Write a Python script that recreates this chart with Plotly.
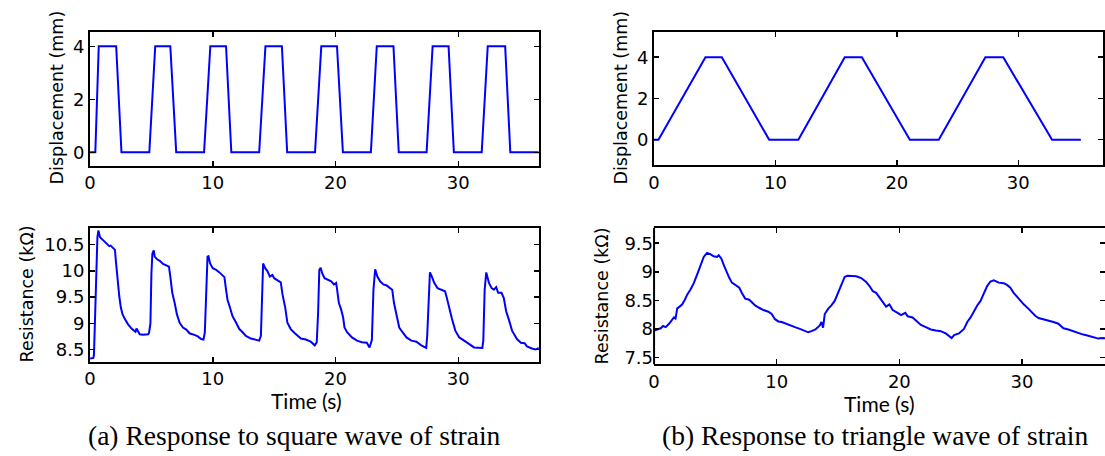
import plotly.graph_objects as go

# ---------------- data ----------------
# (a) square wave displacement (s, mm)
sq_disp_t = [0.00, 0.43, 0.71, 2.13, 2.56, 4.83, 5.31, 6.54, 7.02, 9.29, 9.80, 11.08, 11.51,
             13.78, 14.29, 15.63, 16.06, 18.33, 18.84, 20.12, 20.60, 22.88, 23.36, 24.72, 25.15,
             27.42, 27.91, 29.21, 29.64, 31.91, 32.40, 33.82, 34.24, 36.57]
sq_disp_y = [0, 0, 4, 4, 0, 0, 4, 4, 0, 0, 4, 4, 0,
             0, 4, 4, 0, 0, 4, 4, 0, 0, 4, 4, 0,
             0, 4, 4, 0, 0, 4, 4, 0, 0]

# (a) square wave resistance (s, kOhm)
sq_res_t = [0.00, 0.27, 0.32, 0.45, 0.60, 0.68, 0.81, 1.08, 1.35, 1.57, 1.68, 1.89, 2.03, 2.10,
            2.24, 2.38, 2.51, 2.65, 2.84, 3.10, 3.38, 3.57, 3.70, 3.78, 3.92, 4.05, 4.32, 4.73,
            4.81, 4.92, 5.00, 5.08, 5.19, 5.27, 5.46, 5.68, 5.95, 6.27, 6.43, 6.54, 6.70, 6.89,
            7.08, 7.30, 7.57, 7.84, 8.10, 8.50, 8.78, 9.05, 9.24, 9.35, 9.46, 9.57, 9.65, 9.78,
            10.00, 10.27, 10.54, 10.81, 10.95, 11.08, 11.20, 11.40, 11.60, 11.90, 12.16, 12.43,
            12.70, 13.10, 13.50, 13.78, 13.92, 14.00, 14.10, 14.27, 14.46, 14.65, 14.86, 15.00,
            15.27, 15.54, 15.68, 15.90, 16.08, 16.35, 16.64, 16.91, 17.18, 17.58, 17.98, 18.31,
            18.47, 18.58, 18.68, 18.79, 18.92, 19.11, 19.33, 19.65, 19.87, 20.05, 20.13, 20.27,
            20.46, 20.62, 20.73, 20.94, 21.34, 21.75, 22.15, 22.55, 22.77, 22.96, 23.09, 23.23,
            23.41, 23.63, 23.90, 24.17, 24.44, 24.62, 24.76, 24.97, 25.19, 25.46, 25.78, 26.18,
            26.59, 26.99, 27.39, 27.47, 27.58, 27.69, 27.85, 28.04, 28.31, 28.58, 28.92, 29.03,
            29.27, 29.49, 29.76, 30.08, 30.48, 30.89, 31.29, 31.96, 32.04, 32.15, 32.28, 32.50,
            32.72, 32.90, 33.09, 33.25, 33.52, 33.71, 33.90, 34.11, 34.38, 34.78, 35.10, 35.40,
            35.60, 36.00, 36.30, 36.56]
sq_res_r = [8.33, 8.34, 8.40, 9.60, 10.64, 10.77, 10.64, 10.58, 10.52, 10.47, 10.48, 10.42, 10.40, 10.20,
            9.77, 9.52, 9.30, 9.17, 9.08, 8.98, 8.90, 8.86, 8.84, 8.90, 8.83, 8.79, 8.78, 8.79,
            8.82, 9.00, 9.95, 10.33, 10.39, 10.27, 10.22, 10.19, 10.13, 10.10, 10.08, 9.89, 9.58, 9.39,
            9.17, 9.01, 8.92, 8.88, 8.81, 8.78, 8.75, 8.70, 8.69, 8.82, 9.64, 10.27, 10.28, 10.14,
            10.05, 10.02, 9.97, 9.92, 9.88, 9.64, 9.45, 9.30, 9.14, 9.01, 8.89, 8.83,
            8.76, 8.71, 8.69, 8.67, 8.76, 9.33, 10.14, 10.05, 9.99, 9.89, 9.92, 9.86,
            9.82, 9.78, 9.55, 9.30, 9.01, 8.89, 8.82, 8.76, 8.71, 8.69, 8.65, 8.58,
            8.64, 9.20, 10.02, 10.06, 9.95, 9.86, 9.83, 9.80, 9.74, 9.77, 9.64, 9.39,
            9.26, 9.11, 8.92, 8.83, 8.73, 8.67, 8.64, 8.63, 8.54, 8.68, 9.64, 10.03,
            9.89, 9.80, 9.74, 9.72, 9.67, 9.64, 9.39, 9.14, 8.92, 8.83, 8.73, 8.67,
            8.65, 8.58, 8.53, 8.77, 9.33, 9.97, 9.89, 9.77, 9.67, 9.64, 9.61, 9.52,
            9.26, 9.08, 8.86, 8.73, 8.67, 8.61, 8.54, 8.53, 8.67, 9.64, 9.97, 9.77,
            9.67, 9.64, 9.69, 9.58, 9.58, 9.48, 9.23, 9.08, 8.86, 8.70, 8.63, 8.62,
            8.56, 8.52, 8.50, 8.53]

# (b) triangle wave displacement (s, mm)
tri_disp_t = [0.00, 0.37, 4.24, 5.59, 9.49, 11.89, 15.71, 17.12, 21.07, 23.45, 27.29, 28.76, 32.78, 35.15]
tri_disp_y = [0, 0, 4, 4, 0, 0, 4, 4, 0, 0, 4, 4, 0, 0]

# (b) triangle wave resistance (s, kOhm)
tri_res_t = [0.00, 0.27, 0.54, 0.73, 0.95, 1.22, 1.49, 1.62, 1.75, 1.89, 2.08, 2.30, 2.51, 2.70,
             2.97, 3.24, 3.51, 3.78, 4.05, 4.32, 4.59, 4.86, 5.14, 5.27, 5.49, 5.68, 5.95, 6.14,
             6.35, 6.62, 6.95, 7.16, 7.43, 7.76, 7.97, 8.24, 8.57, 8.92, 9.32, 9.59, 9.86, 10.14,
             10.41, 10.73, 11.08, 11.49, 11.89, 12.30, 12.57, 12.84, 13.16, 13.51, 13.65, 13.78,
             13.92, 14.19, 14.46, 14.73, 15.00, 15.27, 15.54, 15.76, 16.08, 16.49, 16.89, 17.30,
             17.57, 17.84, 18.11, 18.38, 18.65, 18.92, 19.19, 19.46, 19.86, 20.14, 20.49, 20.68,
             21.08, 21.49, 21.76, 22.16, 22.57, 22.97, 23.38, 23.78, 24.27, 24.46, 24.86, 25.27,
             25.54, 25.81, 26.08, 26.35, 26.62, 26.89, 27.16, 27.43, 27.70, 28.11, 28.51, 28.78,
             29.05, 29.32, 29.73, 30.14, 30.54, 30.81, 31.08, 31.35, 31.76, 32.16, 32.57, 32.97,
             33.38, 33.78, 34.19, 34.59, 35.00, 35.41, 35.81, 36.22, 36.54, 37.00]
tri_res_r = [7.97, 7.99, 8.01, 8.05, 8.03, 8.09, 8.17, 8.20, 8.18, 8.36, 8.39, 8.43, 8.51, 8.60,
             8.69, 8.80, 8.95, 9.10, 9.26, 9.33, 9.31, 9.27, 9.26, 9.29, 9.23, 9.12, 8.97, 8.89,
             8.81, 8.77, 8.72, 8.63, 8.53, 8.51, 8.46, 8.41, 8.37, 8.33, 8.30, 8.26, 8.17, 8.13,
             8.12, 8.09, 8.06, 8.03, 8.00, 7.97, 7.94, 7.96, 7.99, 8.06, 8.12, 8.02,
             8.26, 8.35, 8.41, 8.49, 8.63, 8.76, 8.91, 8.93, 8.93, 8.92, 8.89, 8.82,
             8.75, 8.66, 8.63, 8.55, 8.47, 8.39, 8.43, 8.33, 8.28, 8.24, 8.28, 8.22,
             8.20, 8.12, 8.07, 8.03, 7.99, 7.97, 7.96, 7.92, 7.84, 7.89, 7.92, 8.00,
             8.12, 8.20, 8.32, 8.41, 8.49, 8.63, 8.75, 8.83, 8.85, 8.81, 8.80, 8.77,
             8.72, 8.63, 8.52, 8.43, 8.35, 8.28, 8.23, 8.19, 8.17, 8.15, 8.12, 8.09,
             8.01, 7.99, 7.96, 7.92, 7.90, 7.88, 7.86, 7.83, 7.84, 7.83]

time_ticks = [0, 10, 20, 30]
disp_ticks = [0, 2, 4]
res_a_ticks = [8.5, 9, 9.5, 10, 10.5]
res_b_ticks = [7.5, 8, 8.5, 9, 9.5]

disp_title = "Displacement (mm)"
res_title = "Resistance (kΩ)"
time_title = "Time (s)"
caption_a = "(a) Response to square wave of strain"
caption_b = "(b) Response to triangle wave of strain"

# ---------------- figure ----------------
W, H = 1105, 456
BLUE = "#0000ff"

def px_x(v):
    return v / W

def px_y(v):
    return 1 - v / H

fig = go.Figure()
line = dict(color=BLUE, width=2)
fig.add_trace(go.Scatter(x=sq_disp_t, y=sq_disp_y, mode="lines", line=line, xaxis="x", yaxis="y"))
fig.add_trace(go.Scatter(x=sq_res_t, y=sq_res_r, mode="lines", line=line, xaxis="x2", yaxis="y2"))
fig.add_trace(go.Scatter(x=tri_disp_t, y=tri_disp_y, mode="lines", line=line, xaxis="x3", yaxis="y3"))
fig.add_trace(go.Scatter(x=tri_res_t, y=tri_res_r, mode="lines", line=line, xaxis="x4", yaxis="y4"))

tickfont = dict(family="DejaVu Sans", size=18, color="black")
base = dict(showline=True, linecolor="black", linewidth=2, mirror="ticks", ticks="inside",
            ticklen=5, tickwidth=1.5, tickcolor="black", showgrid=False, zeroline=False,
            tickfont=tickfont, fixedrange=True)

dom_ax_left = [px_x(84.5), px_x(535.7)]
dom_bx_top = [px_x(651.5), px_x(1103.3)]
dom_bx_bot = [px_x(651.6), 1.0]
dom_top_a = [px_y(166.7), px_y(32.7)]
dom_bot_a = [px_y(364.0), px_y(229.3)]
dom_top_b = [px_y(166.0), px_y(32.7)]
dom_bot_b = [px_y(366.7), px_y(229.3)]

fig.update_layout(
    width=W, height=H, margin=dict(l=0, r=0, t=0, b=0, pad=0),
    paper_bgcolor="white", plot_bgcolor="white", showlegend=False,
    xaxis=dict(base, domain=dom_ax_left, range=[0, 36.56], tickvals=time_ticks, anchor="y"),
    yaxis=dict(base, domain=dom_top_a, range=[-0.5, 4.52], tickvals=disp_ticks, anchor="x"),
    xaxis2=dict(base, domain=dom_ax_left, range=[0, 36.56], tickvals=time_ticks, anchor="y2"),
    yaxis2=dict(base, domain=dom_bot_a, range=[8.27, 10.82], tickvals=res_a_ticks, anchor="x2"),
    xaxis3=dict(base, domain=dom_bx_top, range=[0, 37.0], tickvals=time_ticks, anchor="y3"),
    yaxis3=dict(base, domain=dom_top_b, range=[-1.22, 5.2], tickvals=disp_ticks, anchor="x3"),
    xaxis4=dict(base, domain=dom_bx_bot, range=[0, 36.77], tickvals=time_ticks, anchor="y4"),
    yaxis4=dict(base, domain=dom_bot_b, range=[7.38, 9.77], tickvals=res_b_ticks, anchor="x4",
                showline=False),
)

# left border of lower-right panel (its right border lies outside the picture)
fig.add_shape(type="line", xref="x4 domain", yref="y4 domain", x0=0, x1=0, y0=0, y1=1,
              line=dict(color="black", width=2))

title_font = dict(family="DejaVu Sans", size=17.5, color="black")
time_font = dict(family="Lato", size=21, color="black")
cap_font = dict(family="Liberation Serif", size=27.5, color="black")

annots = [
    dict(text=disp_title, x=px_x(50.8), y=px_y(98.5), textangle=-90, font=title_font),
    dict(text=res_title, x=px_x(21.5), y=px_y(296.0), textangle=-90, font=title_font),
    dict(text=disp_title, x=px_x(618.0), y=px_y(98.5), textangle=-90, font=title_font),
    dict(text=res_title, x=px_x(599.2), y=px_y(297.5), textangle=-90, font=title_font),
    dict(text=time_title, x=px_x(302), y=px_y(403.5), font=time_font),
    dict(text=time_title, x=px_x(878.7), y=px_y(406.0), font=time_font),
    dict(text=caption_a, x=px_x(290), y=px_y(438.5), font=cap_font),
    dict(text=caption_b, x=px_x(873.5), y=px_y(438.5), font=cap_font),
]
for a in annots:
    fig.add_annotation(xref="paper", yref="paper", showarrow=False,
                       xanchor="center", yanchor="middle", **a)

fig.write_html(
    "out.html",
    config={"displayModeBar": False, "staticPlot": True},
    post_script="document.body.style.margin='0px';document.body.style.padding='0px';"
                "document.body.style.overflow='hidden';",
)
